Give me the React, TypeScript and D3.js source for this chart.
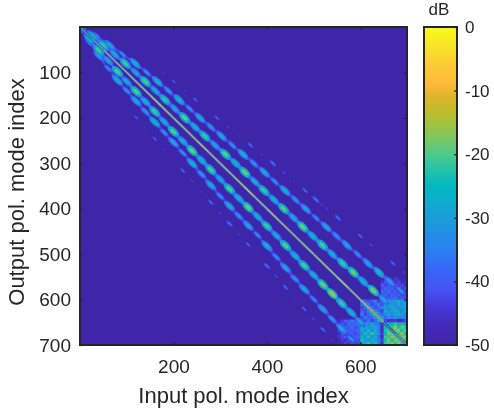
import React, { useEffect, useRef } from 'react';
import * as d3 from 'd3';

// Colour map (dB -> colour)
const colorDb = [-50, -47, -44, -41, -38, -35, -31, -28, -25, -23, -20, -17, -14, -11, -9, -6, -3, 0];
const colorHex = ['#3e26a8', '#4229b8', '#4638d8', '#4555f5', '#3567f5', '#2b80f0', '#1e98dc', '#12a8d0', '#03b9bf', '#1cc0ae', '#4ccb8b', '#86c65a', '#b5bf2f', '#ddb42a', '#ffb83c', '#fbcb35', '#f8e428', '#f9fb15'];

const xTicks = [200, 400, 600];
const yTicks = [100, 200, 300, 400, 500, 600, 700];
const barTicks = [0, -10, -20, -30, -40, -50];

// Stations along each band, in mode index
const stations = [0, 20, 40, 60, 80, 100, 120, 140, 160, 180, 200, 220, 240, 260, 280, 300, 320, 340, 360, 380, 400, 420, 440, 460, 480, 500, 520, 540, 560, 580, 600];

// Distance of each band from the diagonal and its level at each station
const upper1Offset = [3, 7, 10, 14, 17, 19, 20, 21, 22, 23, 24, 26, 27, 29, 31, 33, 33, 34, 34, 35, 36, 37, 37, 38, 39, 40, 42, 45, 46, 48, 50];
const upper1Db = [-30, -25, -22, -27, -21, -28, -20, -27, -22, -28, -19, -26, -21, -28, -19, -25, -18, -27, -21, -26, -19, -27, -18, -25, -20, -26, -21, -18, -25, -17, -28];
const lower1Offset = [3, 7, 11, 14, 18, 20, 22, 24, 26, 28, 30, 31, 32, 33, 34, 35, 36, 37, 37, 37, 38, 39, 41, 43, 45, 46, 47, 47, 48, 48, 49];
const lower1Db = [-30, -25, -21, -28, -20, -27, -19, -26, -21, -27, -19, -26, -18, -25, -20, -27, -19, -25, -18, -26, -21, -27, -19, -25, -20, -26, -18, -15, -21, -25, -28];
const upper2Offset = [8, 16, 24, 31, 38, 43, 46, 49, 52, 55, 57, 60, 63, 66, 69, 72, 75, 77, 79, 81, 83, 85, 87, 89, 91, 94, 96, 100, 103, 106, 110];
const upper2Db = [-50, -33, -28, -33, -26, -32, -26, -31, -25, -32, -27, -31, -28, -32, -26, -31, -27, -32, -26, -31, -28, -33, -27, -31, -28, -32, -28, -24, -29, -31, -33];
const lower2Offset = [8, 15, 23, 31, 37, 40, 43, 46, 49, 52, 54, 57, 60, 64, 68, 72, 74, 76, 77, 78, 82, 86, 90, 94, 97, 99, 101, 103, 104, 106, 108];
const lower2Db = [-50, -34, -29, -33, -26, -32, -27, -31, -25, -32, -28, -32, -26, -31, -27, -32, -26, -31, -28, -33, -26, -32, -28, -31, -27, -33, -28, -31, -27, -32, -34];
const upper3Offset = [56, 60, 64, 68, 72, 78, 81, 84, 87, 90, 93, 97, 101, 105, 109, 113, 116, 119, 122, 125, 128, 132, 136, 140, 143, 147, 150, 154, 157, 160, 165];
const upper3Db = [-50, -50, -50, -50, -50, -44, -41, -45, -40, -46, -39, -43, -45, -38, -44, -37, -42, -45, -38, -36, -43, -37, -45, -39, -42, -46, -38, -43, -50, -50, -50];
const lower3Offset = [56, 60, 64, 68, 72, 76, 79, 83, 86, 90, 93, 96, 99, 103, 106, 110, 113, 116, 119, 122, 126, 129, 133, 137, 141, 143, 146, 149, 153, 156, 158];
const lower3Db = [-50, -50, -50, -50, -50, -45, -41, -45, -40, -44, -46, -39, -43, -45, -38, -43, -37, -44, -39, -46, -37, -42, -38, -45, -39, -43, -38, -44, -50, -50, -50];

const mainStations = [0, 25, 50, 75, 100, 125, 150, 175, 200, 225, 250, 275, 300, 325, 350, 375, 400, 425, 450, 475, 500, 525, 550, 575, 600, 625, 650, 675, 700];
const mainDb = [-22, -19, -16, -14, -13, -12, -10, -12, -11, -12, -10, -12, -11, -12, -10, -12, -10, -12, -13, -11, -12, -11, -9, -12, -10, -11, -24, -20];

// Low order mode groups, 7 index per cell, rows going down
const blockStart = 600;
const blockDb = [
  [-30, -38, -42, -40, -36, -43, -38, -32, -27, -33, -30, -26, -31, -33],
  [-38, -22, -36, -43, -39, -35, -42, -31, -27, -30, -34, -28, -33, -28],
  [-43, -37, -18, -35, -42, -38, -34, -30, -34, -26, -30, -33, -27, -30],
  [-39, -42, -33, -13, -32, -38, -43, -27, -33, -30, -25, -30, -34, -28],
  [-35, -43, -38, -30, -12, -30, -39, -35, -30, -34, -30, -26, -30, -33],
  [-42, -36, -41, -38, -30, -17, -28, -38, -33, -36, -32, -35, -34, -35],
  [-38, -42, -35, -43, -38, -28, -19, -42, -46, -45, -44, -47, -46, -42],
  [-31, -28, -34, -27, -35, -37, -44, -24, -28, -25, -22, -27, -24, -30],
  [-29, -25, -33, -29, -27, -35, -46, -26, -18, -22, -16, -24, -19, -22],
  [-25, -33, -24, -34, -26, -36, -45, -23, -21, -15, -20, -18, -23, -20],
  [-33, -24, -30, -22, -29, -33, -44, -25, -18, -20, -14, -22, -16, -24],
  [-27, -31, -23, -33, -25, -37, -46, -21, -22, -16, -21, -13, -20, -17],
  [-23, -29, -33, -25, -30, -35, -43, -24, -17, -24, -18, -20, -12, -22],
  [-30, -25, -22, -31, -24, -34, -45, -22, -20, -17, -23, -16, -21, -13],
];
const upperPatchInput = 644;
const upperPatchOutput = 551;
const upperPatchDb = [
  [-48, -46, -43, -47, -44, -47, -49, -48],
  [-44, -41, -46, -42, -45, -43, -47, -46],
  [-39, -43, -40, -44, -41, -43, -42, -46],
  [-42, -37, -41, -39, -42, -40, -44, -42],
  [-38, -40, -37, -42, -39, -43, -41, -43],
  [-40, -38, -42, -38, -41, -39, -42, -40],
  [-36, -41, -39, -40, -37, -42, -40, -42],
];
const lowerPatchInput = 551;
const lowerPatchOutput = 644;
const lowerPatchDb = [
  [-46, -43, -40, -39, -36, -41, -37],
  [-44, -41, -43, -37, -40, -38, -36],
  [-47, -43, -39, -41, -37, -42, -39],
  [-43, -45, -42, -38, -41, -39, -37],
  [-46, -41, -44, -40, -39, -42, -40],
  [-45, -43, -40, -42, -38, -41, -39],
  [-48, -44, -46, -41, -43, -40, -42],
  [-47, -46, -43, -45, -41, -44, -43],
];
const patchStep = 7;

const width = 494;
const height = 415;
const plot = { left: 80, right: 407, top: 27, bottom: 345 };
const bar = { left: 424, right: 457 };
const ink = '#262626';
const font = 'Liberation Sans, Arial, sans-serif';

const x = d3.scaleLinear().domain([0, 700]).range([plot.left, plot.right]);
const y = d3.scaleLinear().domain([0, 700]).range([plot.top, plot.bottom]);
const barY = d3.scaleLinear().domain([-50, 0]).range([plot.bottom, plot.top]);
const color = d3.scaleLinear<string>().domain(colorDb).range(colorHex).clamp(true);
const beadWidth = d3.scaleLinear().domain([-46, -20]).range([1.5, 3.6]).clamp(true);
const beadLength = d3.scaleLinear().domain([-46, -30]).range([3.5, 7.5]).clamp(true);
const angle = (Math.atan2(y(1) - y(0), x(1) - x(0)) * 180) / Math.PI;

const bands = [
  { side: 'upper', offset: upper3Offset, db: upper3Db },
  { side: 'lower', offset: lower3Offset, db: lower3Db },
  { side: 'upper', offset: upper2Offset, db: upper2Db },
  { side: 'lower', offset: lower2Offset, db: lower2Db },
  { side: 'upper', offset: upper1Offset, db: upper1Db },
  { side: 'lower', offset: lower1Offset, db: lower1Db },
];

const bandPoint = (side: string, s: number, off: number): [number, number] =>
  side === 'upper' ? [x(s + off), y(s)] : [x(s), y(s + off)];

const Cells = ({ rows, input, output, step }: { rows: number[][]; input: number; output: number; step: number }) => (
  <g>
    {rows.map((row, r) =>
      row.map((v, c) => (
        <rect
          key={`${r}-${c}`}
          x={x(input + c * step)}
          y={y(output + r * step)}
          width={x(step) - x(0) + 0.4}
          height={y(step) - y(0) + 0.4}
          fill={color(v)}
        />
      )),
    )}
  </g>
);

const App = () => {
  const axesRef = useRef<SVGGElement>(null);

  useEffect(() => {
    const g = d3.select(axesRef.current);
    g.selectAll('*').remove();

    // Inward ticks on all four sides, labels on the left and bottom only
    const bottom = g.append('g').attr('transform', `translate(0,${plot.bottom})`)
      .call(d3.axisBottom(x).tickValues(xTicks).tickSize(-3).tickPadding(15));
    const left = g.append('g').attr('transform', `translate(${plot.left},0)`)
      .call(d3.axisLeft(y).tickValues(yTicks).tickSize(-3).tickPadding(9));
    g.append('g').attr('transform', `translate(0,${plot.top})`)
      .call(d3.axisTop(x).tickValues(xTicks).tickSize(-3).tickFormat(() => ''));
    g.append('g').attr('transform', `translate(${plot.right},0)`)
      .call(d3.axisRight(y).tickValues(yTicks).tickSize(-3).tickFormat(() => ''));
    const right = g.append('g').attr('transform', `translate(${bar.right},0)`)
      .call(d3.axisRight(barY).tickValues(barTicks).tickSize(-3).tickPadding(8).tickFormat((d) => String(d)));

    g.selectAll('.domain').remove();
    g.selectAll('line').attr('stroke', ink).attr('stroke-width', 1.2);
    bottom.selectAll('text').attr('font-size', 19);
    left.selectAll('text').attr('font-size', 19);
    right.selectAll('text').attr('font-size', 17);
    g.selectAll('text').attr('font-family', font).attr('fill', ink);
  }, []);

  return (
    <svg width={width} height={height} style={{ position: 'absolute', left: 0, top: 0, background: 'white' }}>
      <defs>
        <clipPath id="plot-clip">
          <rect x={plot.left} y={plot.top} width={plot.right - plot.left} height={plot.bottom - plot.top} />
        </clipPath>
        <filter id="soft" x="-5%" y="-5%" width="110%" height="110%">
          <feGaussianBlur stdDeviation="0.7" />
        </filter>
        <filter id="soft-block" x="-5%" y="-5%" width="110%" height="110%">
          <feGaussianBlur stdDeviation="0.45" />
        </filter>
        <filter id="soft-main" x="-5%" y="-5%" width="110%" height="110%">
          <feGaussianBlur stdDeviation="0.3" />
        </filter>
        <linearGradient id="bar-fill" x1="0" y1="1" x2="0" y2="0">
          {colorDb.map((d) => (
            <stop key={d} offset={(d + 50) / 50} stopColor={color(d)} />
          ))}
        </linearGradient>
      </defs>

      <rect x={plot.left} y={plot.top} width={plot.right - plot.left} height={plot.bottom - plot.top} fill={color(-50)} />
      <g clipPath="url(#plot-clip)">
        <g filter="url(#soft-block)">
          <Cells rows={upperPatchDb} input={upperPatchInput} output={upperPatchOutput} step={patchStep} />
          <Cells rows={lowerPatchDb} input={lowerPatchInput} output={lowerPatchOutput} step={patchStep} />
          <Cells rows={blockDb} input={blockStart} output={blockStart} step={patchStep * (100 / 98)} />
        </g>
        <g filter="url(#soft)">
          {bands.map((band, b) =>
            band.db.map((v, i) => {
              if (v <= -50) return null;
              const [cx, cy] = bandPoint(band.side, stations[i], band.offset[i]);
              const ry = beadWidth(v);
              const rx = beadLength(v);
              const next = i + 1 < stations.length && band.db[i + 1] > -50
                ? bandPoint(band.side, stations[i + 1], band.offset[i + 1])
                : null;
              return (
                <g key={`${b}-${i}`}>
                  {next && v > -37 && (
                    <line x1={cx} y1={cy} x2={next[0]} y2={next[1]} stroke={color(v - 8)} strokeWidth={1.6} />
                  )}
                  <g transform={`rotate(${angle} ${cx} ${cy})`}>
                    <ellipse cx={cx} cy={cy} rx={rx} ry={ry} fill={color(v - 12)} />
                    <ellipse cx={cx} cy={cy} rx={rx * 0.75} ry={ry * 0.68} fill={color(v - 6)} />
                    <ellipse cx={cx} cy={cy} rx={rx * 0.48} ry={ry * 0.42} fill={color(v)} />
                  </g>
                </g>
              );
            }),
          )}
        </g>
        <g filter="url(#soft-main)">
          {mainDb.map((v, i) => {
            const s = mainStations[i];
            const t = mainStations[i + 1];
            return (
              <g key={s}>
                <line x1={x(s)} y1={y(s)} x2={x(t)} y2={y(t)} stroke={color(v - 24)} strokeWidth={2.6} />
                <line x1={x(s)} y1={y(s)} x2={x(t)} y2={y(t)} stroke={color(v)} strokeWidth={1.1} />
              </g>
            );
          })}
        </g>
      </g>
      <rect x={plot.left} y={plot.top} width={plot.right - plot.left} height={plot.bottom - plot.top} fill="none" stroke={ink} strokeWidth={2} />

      <rect x={bar.left} y={plot.top} width={bar.right - bar.left} height={plot.bottom - plot.top} fill="url(#bar-fill)" stroke={ink} strokeWidth={2} />
      <g ref={axesRef} />

      <text x={439} y={15} textAnchor="middle" fontSize={17} fontFamily={font} fill={ink}>dB</text>
      <text x={243.5} y={403} textAnchor="middle" fontSize={22} fontFamily={font} fill={ink}>Input pol. mode index</text>
      <text transform={`translate(24,192) rotate(-90)`} textAnchor="middle" fontSize={22} fontFamily={font} fill={ink}>Output pol. mode index</text>
    </svg>
  );
};

export default App;
